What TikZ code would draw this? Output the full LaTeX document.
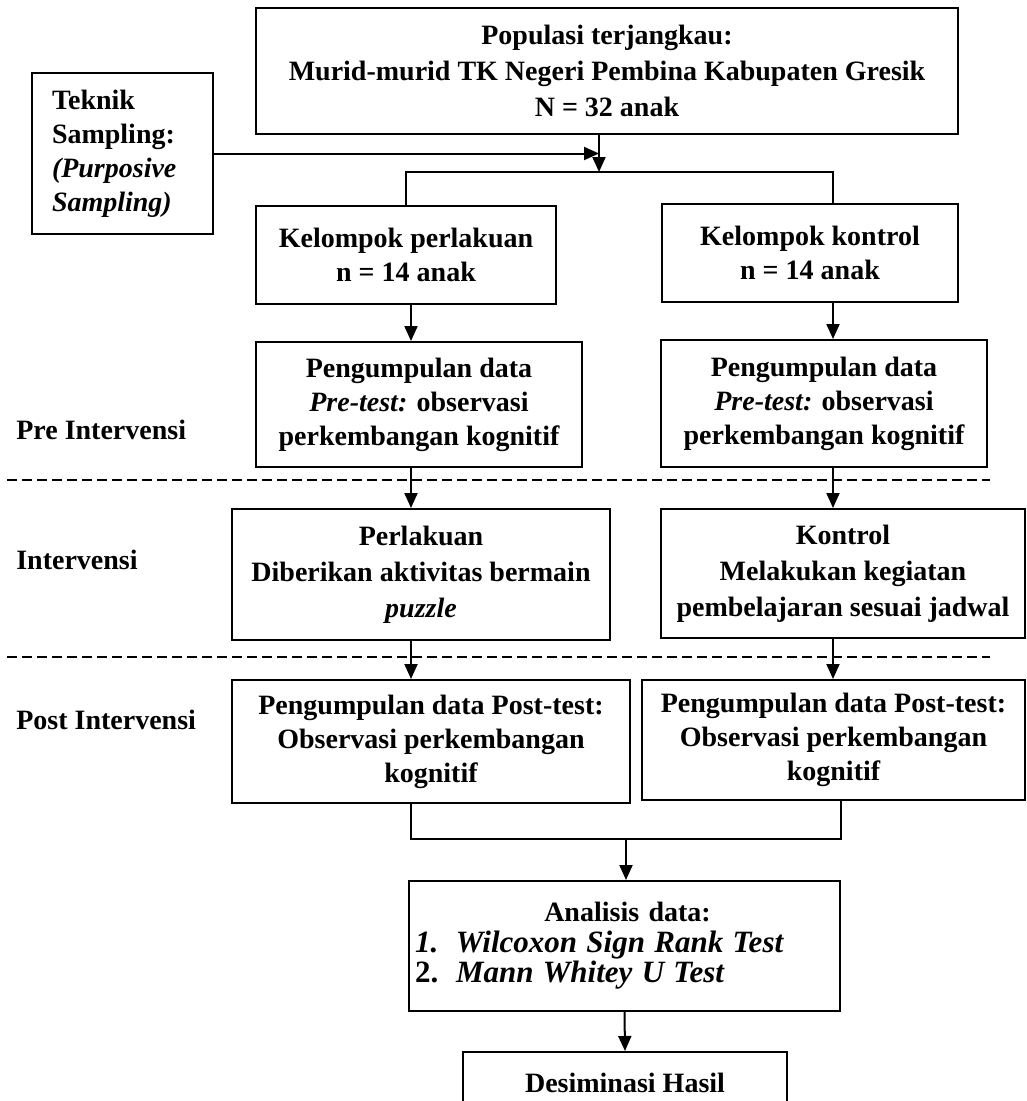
\documentclass[tikz,border=0pt]{standalone}
\usepackage{fontspec}
\setmainfont{Liberation Serif}
\usetikzlibrary{arrows.meta}

\begin{document}
\begin{tikzpicture}[x=1pt, y=-1pt, line width=2pt,
    font=\fontsize{28}{34}\selectfont\bfseries,
    >={Triangle[length=15pt,width=13pt]},
    box/.style={draw, align=center, inner sep=0pt},
    sep/.style={dash pattern=on 10pt off 5pt}]
    \useasboundingbox (0,0) rectangle (1027,1101);
    \clip (0,0) rectangle (1027,1101);

    \node[box, minimum width=702pt, minimum height=126pt, font=\fontsize{28}{36}\selectfont\bfseries] (pop) at (607,71) {Populasi terjangkau:\\Murid-murid TK Negeri Pembina Kabupaten Gresik\\N = 32 anak};
    \node[box, align=left, text width=141pt, inner xsep=20pt, minimum height=161pt] (teknik) at (122.5,153.5) {Teknik\\Sampling:\\\textit{(Purposive}\\\textit{Sampling)}};

    \node[box, minimum width=300pt, minimum height=98pt] (kperl) at (406,255) {Kelompok perlakuan\\n = 14 anak};
    \node[box, minimum width=296pt, minimum height=98pt] (kkont) at (810,253) {Kelompok kontrol\\n = 14 anak};

    \node[box, minimum width=326pt, minimum height=125pt] (pengperl) at (419,404.5) {Pengumpulan data\\\textit{Pre-test:} observasi\\perkembangan kognitif};
    \node[box, minimum width=326pt, minimum height=127pt] (pengkont) at (824,403.5) {Pengumpulan data\\\textit{Pre-test:} observasi\\perkembangan kognitif};

    \node[box, minimum width=378pt, minimum height=131pt, font=\fontsize{28}{36}\selectfont\bfseries] (perl) at (421,574.5) {Perlakuan\\Diberikan aktivitas bermain\\\textit{puzzle}};
    \node[box, minimum width=364pt, minimum height=129pt, font=\fontsize{28}{36}\selectfont\bfseries] (kont) at (843,573.5) {Kontrol\\Melakukan kegiatan\\pembelajaran sesuai jadwal};

    \node[box, minimum width=398pt, minimum height=123pt] (postperl) at (431,741.5) {Pengumpulan data Post-test:\\Observasi perkembangan\\kognitif};
    \node[box, minimum width=383pt, minimum height=120pt] (postkont) at (833.5,740) {Pengumpulan data Post-test:\\Observasi perkembangan\\kognitif};

    \node[box, align=left, text width=419pt, inner xsep=6pt, minimum height=130pt, font=\fontsize{28}{30.5}\selectfont\bfseries] (anal) at (624.5,946)
        {\hspace*{6pt}\makebox[413pt]{Analisis data:}\\
        {\fontsize{31}{30.5}\selectfont\makebox[41pt][l]{\textit{1.}}\textit{Wilcoxon Sign Rank Test}}\\
        {\fontsize{31}{30.5}\selectfont\makebox[41pt][l]{2.}\textit{Mann Whitey U Test}}};
    \node[box, minimum width=324pt, minimum height=62pt] (desim) at (625,1083) {Desiminasi Hasil};

    \node[anchor=west] (pre) at (12,430) {Pre Intervensi};
    \node[anchor=west] (intv) at (12,560) {Intervensi};
    \node[anchor=west] (post) at (12,720) {Post Intervensi};

    \draw[sep] (7,480) -- (990,480);
    \draw[sep] (7,657) -- (990,657);

    \coordinate (split) at (599,172);
    \coordinate (lx) at (411,0);
    \coordinate (rx) at (833,0);
    \coordinate (mx) at (841,0);
    \coordinate (merge) at (626,839);

    \draw[->] (teknik.east) to (teknik.east -| split);
    \draw[->] (pop.south -| split) to (split);
    \draw (kperl.north) |- (split) -| (kkont.north -| rx);

    \draw[->] (kperl.south -| lx) to (pengperl.north -| lx);
    \draw[->] (kkont.south -| rx) to (pengkont.north -| rx);
    \draw[->] (pengperl.south -| lx) to (perl.north -| lx);
    \draw[->] (pengkont.south -| rx) to (kont.north -| rx);
    \draw[->] (perl.south -| lx) to (postperl.north -| lx);
    \draw[->] (kont.south -| rx) to (postkont.north -| rx);

    \draw (postperl.south -| lx) |- (merge) -| (postkont.south -| mx);
    \draw[->] (merge) to (anal.north -| merge);
    \draw[->] (anal.south) to (desim.north);
\end{tikzpicture}
\end{document}
